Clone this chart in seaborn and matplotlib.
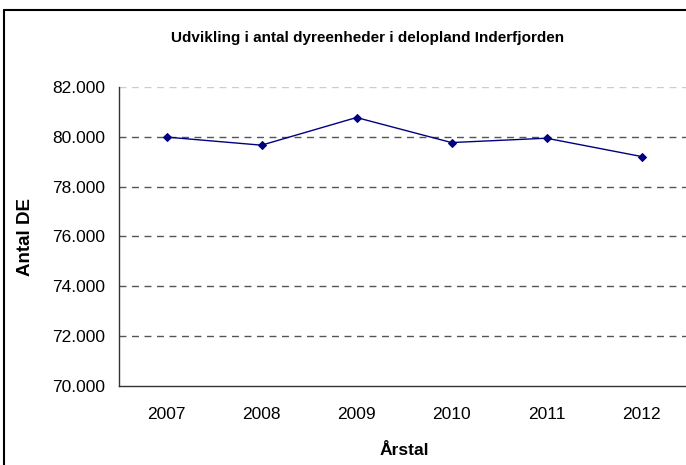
import numpy as np
import matplotlib
matplotlib.use('Agg')
import matplotlib.pyplot as plt
import seaborn as sns
from matplotlib.ticker import FuncFormatter, FixedLocator
from matplotlib.lines import Line2D

# Data (antal dyreenheder pr. år)
aarstal = ['2007', '2008', '2009', '2010', '2011', '2012']
antal_de = [79990, 79665, 80775, 79770, 79945, 79210]
y_ticks = [70000, 72000, 74000, 76000, 78000, 80000, 82000]

sns.set_style('white')
plt.rcParams['font.family'] = ['Liberation Sans', 'DejaVu Sans']
plt.rcParams['text.color'] = 'black'
plt.rcParams['xtick.color'] = 'black'
plt.rcParams['ytick.color'] = 'black'

W, H = 686, 465
fig = plt.figure(figsize=(W / 100, H / 100), dpi=100)
# plotområde i pixels: venstre 119, højre 689, top 87, bund 386
ax = fig.add_axes([119 / W, 1 - 386 / H, (689 - 119) / W, (386 - 87) / H])

pos = np.arange(len(aarstal))
sns.lineplot(x=pos, y=antal_de, ax=ax, color='#000080', linewidth=1,
             marker='D', markersize=4.5, markeredgecolor='#000080')

ax.set_xlim(-0.5, len(aarstal) - 0.5)
ax.set_ylim(70000, 82000)
ax.set_yticks(y_ticks)
ax.yaxis.set_major_formatter(FuncFormatter(lambda v, p: f'{int(v):,}'.replace(',', '.')))
ax.set_xticks(pos)
ax.set_xticklabels(aarstal)
ax.xaxis.set_minor_locator(FixedLocator(np.arange(-0.5, len(aarstal), 1.0)))

# gitterlinjer
for v in y_ticks[1:]:
    col = '#cccccc' if v == y_ticks[-1] else '#555555'
    ax.axhline(v, color=col, linestyle=(0, (5, 4)), linewidth=1, zorder=0)

for s in ['top', 'right']:
    ax.spines[s].set_visible(False)
for s in ['left', 'bottom']:
    ax.spines[s].set_color('#333333')
    ax.spines[s].set_linewidth(1)

ax.tick_params(axis='y', which='major', direction='out', length=4, width=1,
               color='#333333', labelsize=12.5, pad=6)
ax.tick_params(axis='x', which='major', length=0, labelsize=12.5, pad=15)
ax.tick_params(axis='x', which='minor', direction='out', length=4, width=1,
               color='#333333')

fig.text(404 / W, 1 - 450 / H, 'Årstal', ha='center', va='center',
         fontsize=12.5, fontweight='bold')
fig.text(25 / W, 1 - 237 / H, 'Antal DE', ha='center', va='center',
         rotation=90, fontsize=13.5, fontweight='bold')
fig.text(368 / W, 1 - 38 / H,
         'Udvikling i antal dyreenheder i delopland Inderfjorden',
         ha='center', va='center', fontsize=11, fontweight='bold')

# ramme om diagrammet (kun top og venstre synlige)
fig.add_artist(Line2D([4 / W, 1], [1 - 10 / H, 1 - 10 / H], transform=fig.transFigure,
                      color='black', linewidth=1.5))
fig.add_artist(Line2D([4 / W, 4 / W], [0, 1 - 10 / H], transform=fig.transFigure,
                      color='black', linewidth=1.5))

fig.savefig('out.png', dpi=100)
